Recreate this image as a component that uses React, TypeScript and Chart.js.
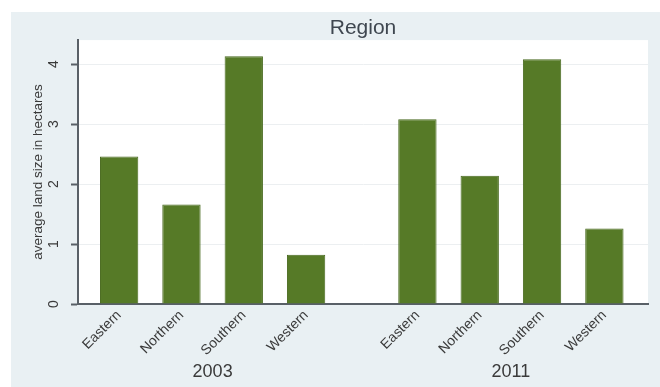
import React, { useEffect, useRef } from "react";
import { Chart, registerables } from "chart.js";

Chart.register(...registerables);

const REGIONS = ["Eastern", "Northern", "Southern", "Western"];
const YEARS = ["2003", "2011"];
const LAND_2003 = [2.46, 1.66, 4.13, 0.82];
const LAND_2011 = [3.08, 2.14, 4.08, 1.26];
const Y_TICKS = [0, 1, 2, 3, 4];
const Y_TITLE = "average land size in hectares";
const TITLE = "Region";

const GROUP_GAP = 0.786;
const X_MIN = -0.66;
const X_MAX = 3 + (4 + GROUP_GAP) + 0.7;

const SERIES = [LAND_2003, LAND_2011];
const slot = (g: number, i: number) => g * (4 + GROUP_GAP) + i;
const POINTS = SERIES.flatMap((vals, g) => vals.map((v, i) => ({ x: slot(g, i), y: v })));
const X_TICK_POS = SERIES.flatMap((vals, g) => vals.map((_, i) => slot(g, i)));
const GROUP_POS = YEARS.map((_, g) => slot(g, 1.5));

const FONT = "'Liberation Sans', Arial, sans-serif";
const AXIS = "#596067";
const BG = "#e9f0f3";

const bgPlugin = {
  id: "bgPlugin",
  beforeDraw(chart: any) {
    const { ctx, width, height, chartArea } = chart;
    ctx.save();
    ctx.fillStyle = "#ffffff";
    ctx.fillRect(0, 0, width, height);
    ctx.fillStyle = BG;
    ctx.fillRect(11, 12, width - 11, height - 12);
    ctx.fillStyle = "#ffffff";
    ctx.fillRect(chartArea.left, chartArea.top, chartArea.right - chartArea.left, chartArea.bottom - chartArea.top);
    ctx.restore();
  },
};

export default function App() {
  const ref = useRef<HTMLCanvasElement>(null);
  useEffect(() => {
    document.body.style.margin = "0";
    if (!ref.current) return;
    const chart = new Chart(ref.current, {
      type: "bar",
      data: {
        datasets: [
          {
            data: POINTS,
            backgroundColor: "#567a27",
            borderColor: "#48691f",
            borderWidth: 1,
            categoryPercentage: 1,
            barPercentage: 0.615,
          },
        ],
      },
      options: {
        responsive: false,
        animation: false,
        layout: { padding: { left: 0, right: 12, top: 0, bottom: 0 } },
        plugins: {
          legend: { display: false },
          tooltip: { enabled: false },
          title: {
            display: true,
            text: TITLE,
            fullSize: false,
            color: "#3f4750",
            font: { family: FONT, size: 21, weight: "normal", lineHeight: 1.1 },
            padding: { top: 17, bottom: 0 },
          },
        },
        scales: {
          x: {
            type: "linear",
            position: "bottom",
            offset: false,
            min: X_MIN,
            max: X_MAX,
            afterBuildTicks: (s: any) => {
              s.ticks = X_TICK_POS.map((v) => ({ value: v }));
            },
            afterFit: (s: any) => {
              s.height = 56;
            },
            grid: { display: false, drawTicks: false, offset: false },
            border: { display: true, color: AXIS, width: 2 },
            ticks: {
              autoSkip: false,
              minRotation: 45,
              maxRotation: 45,
              padding: 3,
              color: "#3a3a3a",
              font: { family: FONT, size: 14 },
              callback: (_v: any, i: number) => REGIONS[i % REGIONS.length],
            },
          },
          xg: {
            type: "linear",
            position: "bottom",
            offset: false,
            min: X_MIN,
            max: X_MAX,
            afterBuildTicks: (s: any) => {
              s.ticks = GROUP_POS.map((v) => ({ value: v }));
            },
            afterFit: (s: any) => {
              s.height = 27;
            },
            grid: { display: false, drawTicks: false, offset: false },
            border: { display: false },
            ticks: {
              autoSkip: false,
              maxRotation: 0,
              padding: 1,
              color: "#3a3a3a",
              font: { family: FONT, size: 18 },
              callback: (_v: any, i: number) => YEARS[i],
            },
          },
          y: {
            type: "linear",
            min: 0,
            max: 4.4,
            afterBuildTicks: (s: any) => {
              s.ticks = Y_TICKS.map((v) => ({ value: v }));
            },
            afterFit: (s: any) => {
              s.width = 78;
            },
            grid: {
              color: "#eceff1",
              lineWidth: 1,
              drawTicks: true,
              tickLength: 7,
              tickColor: AXIS,
              tickWidth: 2,
            },
            border: { display: true, color: AXIS, width: 2 },
            ticks: {
              minRotation: 90,
              maxRotation: 90,
              crossAlign: "center",
              padding: 13,
              color: "#3a3a3a",
              font: { family: FONT, size: 14 },
            },
            title: {
              display: true,
              text: Y_TITLE,
              color: "#3a3a3a",
              font: { family: FONT, size: 13.5, lineHeight: 1.2 },
              padding: { top: 30, bottom: 0 },
            },
          },
        },
      },
      plugins: [bgPlugin],
    } as any);
    return () => chart.destroy();
  }, []);
  return <canvas ref={ref} width={660} height={387} style={{ display: "block" }} />;
}
